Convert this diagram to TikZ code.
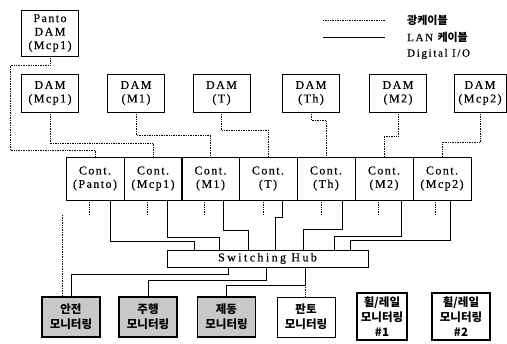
\documentclass[tikz,border=0pt]{standalone}
\usepackage{fontspec}
\setmainfont[LetterSpace=12,FakeBold=0.4]{Liberation Serif}
\newfontfamily\kr{Noto Sans CJK KR}
\usetikzlibrary{positioning,calc}
\definecolor{ScanGray}{RGB}{200,200,200}

\begin{document}
\begin{tikzpicture}[
    x=1pt,
    y=-1pt,
    font=\fontsize{12}{13.5}\selectfont,
    dam/.style={
        draw,
        line width=0.8pt,
        minimum width=57pt,
        minimum height=38pt,
        inner sep=1pt,
        align=center
    },
    cont/.style={
        draw,
        line width=0.8pt,
        minimum width=58pt,
        minimum height=43pt,
        inner sep=1pt,
        align=center
    },
    hub/.style={
        draw,
        line width=0.8pt,
        minimum width=201pt,
        minimum height=17pt,
        inner sep=1pt,
        font=\fontsize{12}{14}\selectfont\addfontfeature{LetterSpace=20}
    },
    mon/.style={
        draw,
        line width=0.8pt,
        minimum width=58pt,
        minimum height=40pt,
        inner sep=1pt,
        align=center,
        font=\kr\bfseries\fontsize{11.5}{15}\selectfont
    },
    monshade/.style={
        mon,
        fill=ScanGray,
        line width=1.4pt
    },
    legend/.style={
        anchor=west,
        inner sep=0pt,
        font=\fontsize{11}{12}\selectfont\addfontfeature{LetterSpace=15}
    },
    optic/.style={densely dotted, line width=0.7pt},
    lan/.style={line width=0.8pt}
]
\useasboundingbox (0,0) rectangle (507,344);

\coordinate (optA) at (323,20);
\coordinate (optB) at (385,20);
\coordinate (lanA) at (323,37);
\coordinate (lanB) at (385,37);
\draw[optic] (optA) -- (optB);
\draw[lan] (lanA) -- (lanB);
\node[legend] (lgOpt) at (407,20) {\kr\bfseries\fontsize{11}{12}\selectfont 광케이블};
\node[legend] (lgLan) at (407,37) {LAN {\kr\bfseries\fontsize{11}{12}\selectfont 케이블}};
\node[legend] (lgDio) at (407,54) {Digital I/O};

\node[dam, minimum height=46pt] (pdam) at (50,33) {Panto\\DAM\\(Mcp1)};

\node[dam] (dMcp1) at (50,93) {DAM\\(Mcp1)};
\node[dam] (dM1) at (136,93) {DAM\\(M1)};
\node[dam] (dT) at (221.5,93) {DAM\\(T)};
\node[dam] (dTh) at (311,93) {DAM\\(Th)};
\node[dam] (dM2) at (398,93) {DAM\\(M2)};
\node[dam, minimum width=52pt] (dMcp2) at (480,93) {DAM\\(Mcp2)};

\node[cont] (cPanto) at (95,178.5) {Cont.\\(Panto)};
\node[cont] (cMcp1) at (153,178.5) {Cont.\\(Mcp1)};
\node[cont] (cM1) at (210.5,178.5) {Cont.\\(M1)};
\node[cont] (cT) at (268,178.5) {Cont.\\(T)};
\node[cont] (cTh) at (326,178.5) {Cont.\\(Th)};
\node[cont] (cM2) at (384,178.5) {Cont.\\(M2)};
\node[cont] (cMcp2) at (442,178.5) {Cont.\\(Mcp2)};

\node[hub] (hub) at (267.5,258.5) {Switching Hub};

\node[monshade] (mSafe) at (71,317) {안전\\모니터링};
\node[monshade] (mDrive) at (148,317) {주행\\모니터링};
\node[monshade] (mBrake) at (226.5,317) {제동\\모니터링};
\node[mon, line width=0.6pt] (mPanto) at (306,317) {판토\\모니터링};
\node[mon, line width=1.2pt, minimum width=50pt, minimum height=47pt] (mWheel1) at (382,316.5) {휠/레일\\모니터링\\\#1};
\node[mon, line width=1.2pt, minimum height=47pt] (mWheel2) at (461,316.5) {휠/레일\\모니터링\\\#2};

\draw[optic] (pdam.south) -- ++(0,9) -| (10,150) -| (cPanto.north);
\draw[optic] (dMcp1.south) -- ++(0,31) -| (cMcp1.north);
\draw[optic] (dM1.south) -- ++(0,23) -| (cM1.north);
\draw[optic] (dT.south) -- ++(0,18) -| (cT.north);
\draw[optic] (dTh.south) -- ++(0,8) -| (cTh.north);
\draw[optic] (dM2.south) -- ++(0,24) -| (cM2.north);
\draw[optic] (dMcp2.south) -- ++(0,30) -| (cMcp2.north);

\draw[optic] ([xshift=-6pt]cPanto.south) -- ++(0,15);
\draw[optic] ([xshift=-6pt]cMcp1.south) -- ++(0,15);
\draw[optic] ([xshift=-6pt]cM1.south) -- ++(0,15);
\draw[optic] ([xshift=-5pt]cT.south) -- ++(0,15);
\draw[optic] ([xshift=-5pt]cTh.south) -- ++(0,15);
\draw[optic] ([xshift=-6pt]cM2.south) -- ++(0,15);
\draw[optic] ([xshift=-7pt]cMcp2.south) -- ++(0,15);

\draw[lan] ([xshift=15pt]cPanto.south) -- ++(0,41) -| ([xshift=-73.5pt]hub.north);
\draw[lan] ([xshift=14pt]cMcp1.south) -- ++(0,37) -| ([xshift=-48.5pt]hub.north);
\draw[lan] ([xshift=12.5pt]cM1.south) -- ++(0,30) -| ([xshift=-19.5pt]hub.north);
\draw[lan] ([xshift=14pt]cT.south) -- ++(0,17) -| ([xshift=7.5pt]hub.north);
\draw[lan] ([xshift=16pt]cTh.south) -- ++(0,29) -| ([xshift=35.5pt]hub.north);
\draw[lan] ([xshift=17pt]cM2.south) -- ++(0,36) -| ([xshift=66.5pt]hub.north);
\draw[lan] ([xshift=8pt]cMcp2.south) -- ++(0,40) -| ([xshift=82.5pt]hub.north);

\draw[lan] ([xshift=-39.5pt]hub.south) -- ++(0,7) -| (mSafe.north);
\draw[lan] ([xshift=-1.5pt]hub.south) -- ++(0,13) -| (mDrive.north);
\draw[lan] ([xshift=37.5pt]hub.south) -- ++(0,18) coordinate (hubJoin) -| (mBrake.north);
\draw[optic] (hubJoin) -- (hubJoin |- mPanto.north);

\coordinate (safeTop) at (62,215);
\draw[optic] (safeTop) -- (safeTop |- mSafe.north);

\end{tikzpicture}
\end{document}
